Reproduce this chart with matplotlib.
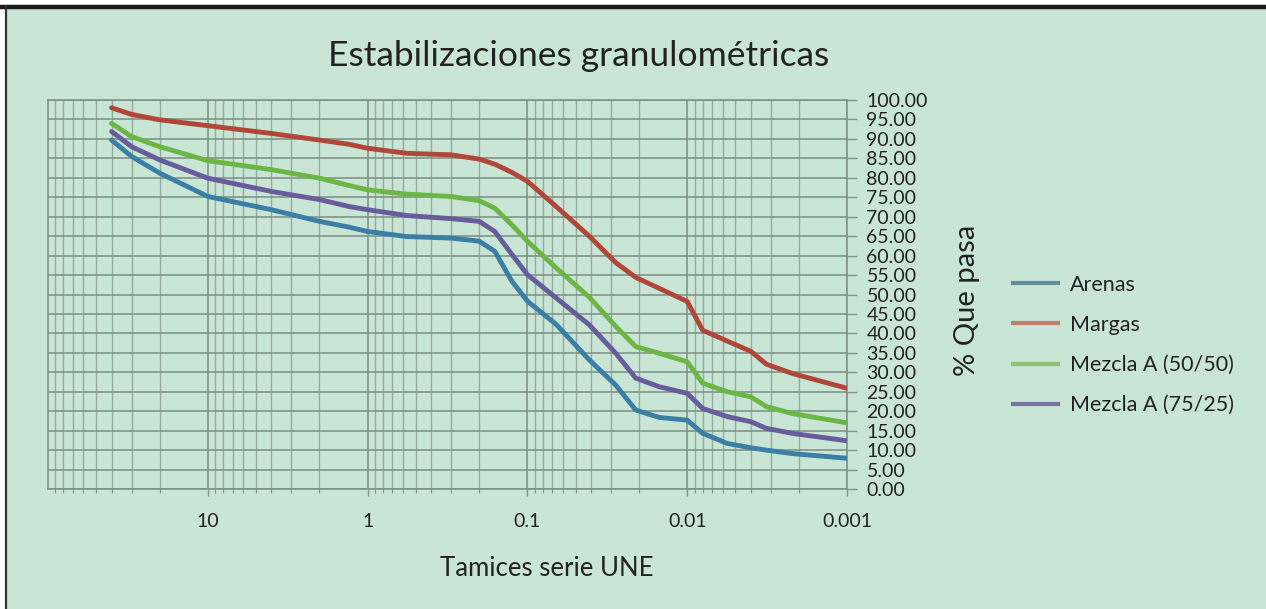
import matplotlib
matplotlib.use("Agg")
import matplotlib.pyplot as plt
from matplotlib.lines import Line2D
from matplotlib.patches import Rectangle
from matplotlib.ticker import FixedLocator, LogLocator, NullFormatter

plt.rcParams['font.family'] = ['Lato', 'DejaVu Sans']

# ---------------- data ----------------
tamices = [40, 30, 20, 10, 4, 2, 1.3, 1, 0.57, 0.30, 0.20, 0.16, 0.125, 0.1,
           0.066, 0.041, 0.028, 0.021, 0.015, 0.01, 0.008, 0.0056, 0.004,
           0.0032, 0.0022, 0.001]

arenas = [89.7, 85.5, 81.2, 75.2, 71.8, 68.8, 67.3, 66.2, 64.9, 64.5, 63.7,
          61.1, 53.4, 48.3, 42.3, 33.2, 26.7, 20.3, 18.4, 17.7, 14.3, 11.7,
          10.6, 10.0, 9.1, 7.9]
margas = [98.0, 96.3, 94.9, 93.4, 91.4, 89.7, 88.6, 87.6, 86.3, 85.9, 84.8,
          83.5, 81.4, 79.1, 72.6, 65.0, 58.2, 54.4, 51.6, 48.2, 40.8, 38.0,
          35.4, 32.1, 29.7, 25.9]
mezcla_50 = [94.0, 90.6, 88.0, 84.4, 82.1, 79.9, 78.0, 76.9, 75.8, 75.2, 74.1,
             72.2, 67.9, 63.7, 56.8, 49.3, 41.8, 36.6, 34.9, 32.7, 27.2, 25.0,
             23.7, 21.2, 19.4, 17.0]
mezcla_75 = [91.9, 88.0, 84.6, 79.9, 76.5, 74.4, 72.6, 71.8, 70.3, 69.5, 68.8,
             66.2, 60.3, 55.1, 49.1, 42.2, 34.9, 28.5, 26.3, 24.6, 20.7, 18.6,
             17.3, 15.6, 14.3, 12.4]

series_labels = ["Arenas", "Margas", "Mezcla A (50/50)", "Mezcla A (75/25)"]
x_ticks = [10, 1, 0.1, 0.01, 0.001]
x_ticklabels = ["10", "1", "0.1", "0.01", "0.001"]
y_ticks = list(range(0, 101, 5))

title = "Estabilizaciones granulométricas"
xlabel = "Tamices serie UNE"
ylabel = "% Que pasa"

# ---------------- style ----------------
W, H = 1266, 609
bg = "#c9e5d5"
grid_col = "#7f9486"
line_cols = ["#3b7ea6", "#b0473a", "#6cb645", "#675c9c"]
legend_cols = ["#628e9c", "#c47f6a", "#8cc270", "#77739f"]

fig = plt.figure(figsize=(W / 100, H / 100), dpi=100, facecolor="white")

# panel background with border (top thick, left thin)
fig.patches.append(Rectangle((6 / W, 0), 1 - 6 / W, 1 - 8 / H,
                             transform=fig.transFigure, facecolor=bg,
                             edgecolor="none", zorder=-10))
fig.add_artist(Line2D([0, 1], [1 - 6.5 / H, 1 - 6.5 / H],
                      transform=fig.transFigure, color="#1a1a1a", lw=3.2))
fig.add_artist(Line2D([5.5 / W, 5.5 / W], [0, 1 - 6 / H],
                      transform=fig.transFigure, color="#333333", lw=1.6))

left, right = 48 / W, 847 / W
bottom, top = 1 - 489 / H, 1 - 100 / H
ax = fig.add_axes([left, bottom, right - left, top - bottom])
ax.set_zorder(1)
ax.set_facecolor(bg)

ax.set_xscale("log")
ax.set_xlim(100, 0.001)
ax.set_ylim(0, 100)

for ys, c in zip([arenas, margas, mezcla_50, mezcla_75], line_cols):
    ax.plot(tamices, ys, color=c, lw=3.5, solid_joinstyle="round",
            solid_capstyle="round", zorder=3)

# grid
ax.xaxis.set_major_locator(FixedLocator(x_ticks))
ax.xaxis.set_minor_locator(LogLocator(base=10, subs=range(2, 10), numticks=20))
ax.xaxis.set_minor_formatter(NullFormatter())
ax.set_xticklabels(x_ticklabels)
ax.set_yticks(y_ticks)
ax.set_yticklabels([f"{v:.2f}" for v in y_ticks])
ax.grid(True, which="major", axis="both", color=grid_col, lw=1.3, alpha=0.9)
ax.grid(True, which="minor", axis="x", color=grid_col, lw=1.0, alpha=0.7)

ax.yaxis.tick_right()
ax.tick_params(axis="y", which="both", left=False, right=True, direction="out",
               length=7, width=1, color=grid_col, pad=7, labelsize=14,
               labelcolor="#222222")
ax.tick_params(axis="x", which="major", direction="out", length=5, width=1,
               color=grid_col, pad=12, labelsize=14, labelcolor="#222222")
ax.tick_params(axis="x", which="minor", direction="out", length=3, width=0.8,
               color=grid_col)
for s in ax.spines.values():
    s.set_color(grid_col)
    s.set_linewidth(1.2)

# texts
fig.text(579 / W, 1 - 66 / H, title, ha="center", va="baseline",
         fontsize=25.5, color="#222222")
fig.text(547 / W, 1 - 576 / H, xlabel, ha="center", va="baseline",
         fontsize=18.5, color="#222222")
fig.text(967 / W, 1 - 300 / H, ylabel, ha="center", va="center",
         rotation=90, fontsize=21, color="#222222")

handles = [Line2D([], [], color=c, lw=3) for c in legend_cols]
fig.legend(handles, series_labels, loc="upper left",
           bbox_to_anchor=(1013 / W, 1 - 275 / H), bbox_transform=fig.transFigure,
           frameon=False, fontsize=15.5, handlelength=2.1, handletextpad=0.55,
           labelspacing=0.93, borderpad=0, borderaxespad=0,
           labelcolor="#222222")

fig.savefig("out.png", dpi=100, facecolor="white")
